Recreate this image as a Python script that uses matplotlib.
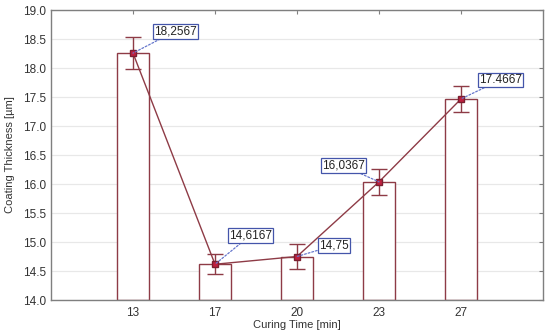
import numpy as np
import matplotlib.pyplot as plt

plt.rcParams['font.family'] = ['Liberation Sans', 'DejaVu Sans']

# data
times = ['13', '17', '20', '23', '27']
thickness = [18.2567, 14.6167, 14.75, 16.0367, 17.4667]
err = [0.27, 0.17, 0.21, 0.23, 0.23]
labels = ['18,2567', '14,6167', '14,75', '16,0367', '17.4667']
# label offsets in pixels (box corner relative to point)
offsets = [(21, 16), (14, 23), (22, 5), (-14, 10), (18, 13)]

red = '#8E3B46'
grey = '#7F7F7F'

fig = plt.figure(figsize=(5.5, 3.34), dpi=100)
ax = fig.add_axes([51 / 550, 34 / 334, 492 / 550, 290 / 334])

x = np.arange(len(times))
ax.bar(x, np.array(thickness) - 14, bottom=14, width=0.4, facecolor='white',
       edgecolor=red, linewidth=1.0, zorder=2)
ax.errorbar(x, thickness, yerr=err, fmt='none', ecolor=red, elinewidth=1.0,
            capsize=6, capthick=1.0, zorder=3)
ax.plot(x, thickness, color=red, linewidth=1.0, marker='s', markersize=4.5,
        markerfacecolor='#C0203F', markeredgecolor='#7A1F30', zorder=4)

for xi, yi, lab, (dx, dy) in zip(x, thickness, labels, offsets):
    ha = 'left' if dx > 0 else 'right'
    ax.annotate(lab, xy=(xi, yi), xytext=(dx, dy), textcoords='offset pixels',
                ha=ha, va='bottom', fontsize=8.5, color='#222222',
                bbox=dict(boxstyle='square,pad=0.12', fc='white', ec='#4455AA', lw=0.9),
                arrowprops=dict(arrowstyle='-', linestyle=(0, (1.5, 1.5)),
                                color='#6677CC', lw=0.9, shrinkA=0, shrinkB=0),
                zorder=5)

ax.set_xlim(-1, len(times))
ax.set_ylim(14, 19)
ax.set_xticks(x)
ax.set_xticklabels(times)
ax.set_yticks(np.arange(14, 19.01, 0.5))
ax.set_yticklabels([f'{v:.1f}' for v in np.arange(14, 19.01, 0.5)])
ax.tick_params(direction='in', length=3, width=0.8, colors=grey, labelcolor='#333333',
               labelsize=8.5, top=True, right=True, left=False)
ax.tick_params(axis='x', pad=5)
ax.grid(axis='y', color='#E8E8E8', linewidth=0.9, zorder=0)
ax.set_axisbelow(True)
for s in ax.spines.values():
    s.set_color(grey)
    s.set_linewidth(1.0)

ax.set_xlabel('Curing Time [min]', fontsize=8, color='#333333', labelpad=1)
ax.set_ylabel('Coating Thickness [µm]', fontsize=8, color='#333333', labelpad=6)

fig.savefig('out.png', dpi=100)
